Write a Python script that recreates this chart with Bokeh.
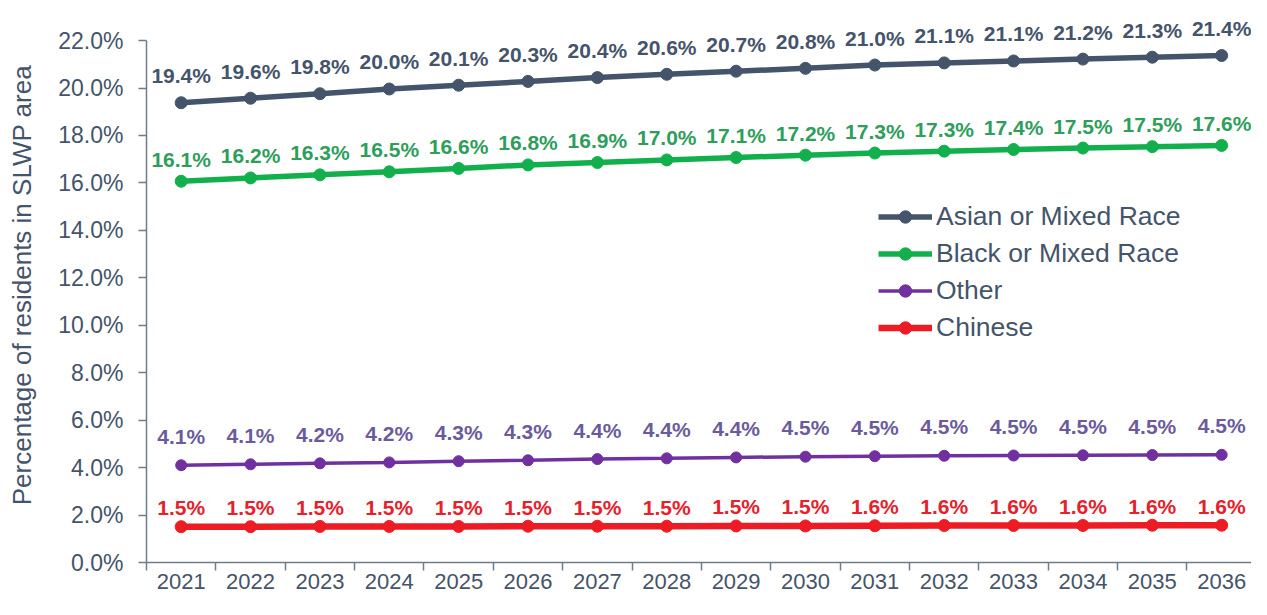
from bokeh.plotting import figure
from bokeh.models import FixedTicker, Range1d, Legend, LegendItem, ColumnDataSource
from bokeh.core.properties import value
from bokeh.embed import file_html
from bokeh.resources import INLINE

years = list(range(2021, 2037))
series_names = ["Asian or Mixed Race", "Black or Mixed Race", "Other", "Chinese"]
asian = [19.38, 19.57, 19.76, 19.96, 20.12, 20.28, 20.44, 20.58, 20.71, 20.83, 20.97, 21.06, 21.14, 21.22, 21.30, 21.37]
black = [16.07, 16.21, 16.34, 16.47, 16.61, 16.76, 16.86, 16.97, 17.07, 17.17, 17.26, 17.34, 17.41, 17.47, 17.53, 17.58]
other = [4.10, 4.14, 4.18, 4.22, 4.27, 4.31, 4.36, 4.39, 4.43, 4.46, 4.48, 4.50, 4.51, 4.52, 4.53, 4.54]
chinese = [1.51, 1.51, 1.52, 1.52, 1.52, 1.53, 1.53, 1.53, 1.54, 1.54, 1.55, 1.56, 1.56, 1.56, 1.57, 1.57]
y_ticks = [0, 2, 4, 6, 8, 10, 12, 14, 16, 18, 20, 22]

styles = [
    dict(line="#44546A", label="#44546A", lw=5.5, size=12, off=27),
    dict(line="#12B04D", label="#2E9E5B", lw=5.5, size=12, off=22),
    dict(line="#7030A0", label="#6B5B9E", lw=3.5, size=11, off=29),
    dict(line="#ED1C24", label="#E8202A", lw=6.5, size=12, off=19),
]
data = [asian, black, other, chinese]

FONT = "Liberation Sans"
TXT = "#44546A"
AX = "#6F7C8C"

p = figure(width=1251, height=599, output_backend="svg", toolbar_location=None,
           x_range=Range1d(2020.5, 2036.43), y_range=Range1d(0, 23.69),
           min_border_left=146, min_border_right=0, min_border_top=0, min_border_bottom=37)
p.outline_line_color = None
p.grid.visible = False
p.background_fill_color = "white"
p.border_fill_color = "white"

# y axis
ya = p.yaxis[0]
ya.ticker = FixedTicker(ticks=y_ticks, minor_ticks=[])
ya.major_label_overrides = {t: f"{t:.1f}%" for t in y_ticks}
ya.bounds = (0, 22)
ya.axis_line_color = AX
ya.axis_line_width = 1.5
ya.major_tick_line_color = AX
ya.major_tick_line_width = 1.5
ya.major_tick_out = 8
ya.major_tick_in = 0
ya.minor_tick_line_color = None
ya.minor_tick_out = 0
ya.major_label_text_font = FONT
ya.major_label_text_font_size = "23px"
ya.major_label_text_color = TXT
ya.major_label_standoff = 15
ya.axis_label = "Percentage of  residents in SLWP area"
ya.axis_label_text_font = FONT
ya.axis_label_text_font_size = "26px"
ya.axis_label_text_font_style = "normal"
ya.axis_label_text_color = TXT
ya.axis_label_standoff = 18

# x axis
xa = p.xaxis[0]
xa.ticker = FixedTicker(ticks=years, minor_ticks=[y - 0.5 for y in years] + [years[-1] + 0.5])
xa.major_label_overrides = {y: str(y) for y in years}
xa.axis_line_color = AX
xa.axis_line_width = 1.5
xa.major_tick_line_color = None
xa.major_tick_out = 0
xa.major_tick_in = 0
xa.minor_tick_line_color = AX
xa.minor_tick_line_width = 1.5
xa.minor_tick_out = 8
xa.minor_tick_in = 0
xa.major_label_text_font = FONT
xa.major_label_text_font_size = "22px"
xa.major_label_text_color = TXT
xa.major_label_standoff = 3

items = []
for name, vals, st in zip(series_names, data, styles):
    src = ColumnDataSource(dict(x=years, y=vals, t=[f"{v:.1f}%" for v in vals]))
    lr = p.line("x", "y", source=src, line_color=st["line"], line_width=st["lw"])
    sr = p.scatter("x", "y", source=src, size=st["size"], fill_color=st["line"], line_color=st["line"])
    p.text("x", "y", text="t", source=src, text_align="center", text_baseline="middle",
           y_offset=-st["off"], text_font=value(FONT), text_font_style="bold",
           text_font_size="21px", text_color=st["label"])
    items.append(LegendItem(label=name, renderers=[lr, sr]))

legend = Legend(items=items, location=(732, 219), orientation="vertical",
                label_text_font=FONT, label_text_font_size="26.5px", label_text_color=TXT,
                glyph_width=54, glyph_height=31, label_height=31, spacing=6,
                label_standoff=4, padding=0, margin=0,
                border_line_color=None, background_fill_alpha=0)
p.add_layout(legend, "center")

open("out.html", "w").write(file_html(p, INLINE))
